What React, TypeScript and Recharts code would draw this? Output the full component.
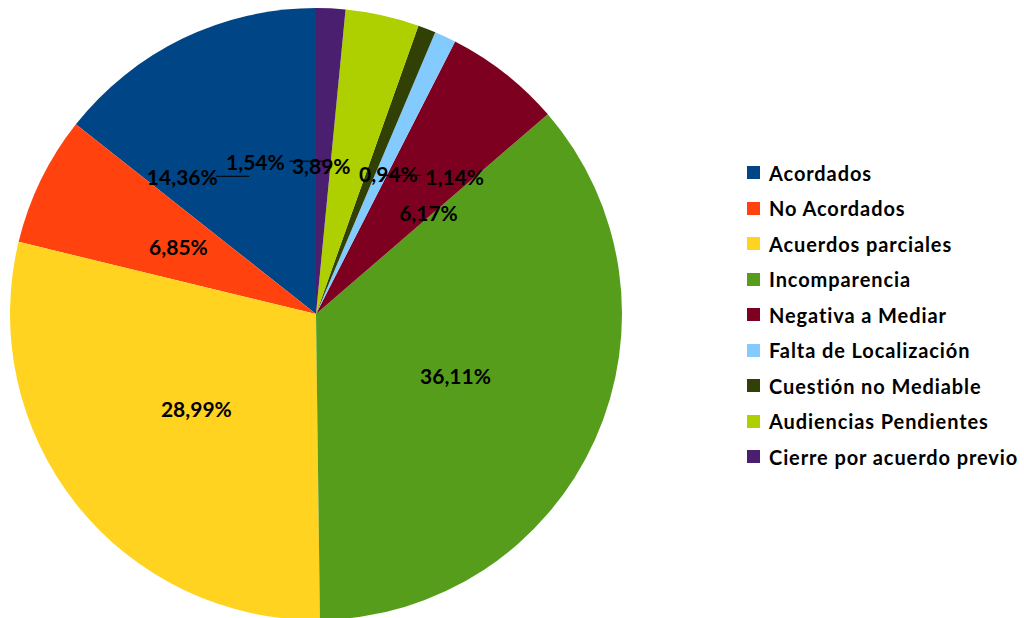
import React from 'react';
import { PieChart, Pie, Cell, Legend } from 'recharts';

const categories = [
  'Acordados',
  'No Acordados',
  'Acuerdos parciales',
  'Incomparencia',
  'Negativa a Mediar',
  'Falta de Localización',
  'Cuestión no Mediable',
  'Audiencias Pendientes',
  'Cierre por acuerdo previo',
];
const values = [14.36, 6.85, 28.99, 36.11, 6.17, 1.14, 0.94, 3.89, 1.54];
const colors = ['#004586', '#ff420e', '#ffd320', '#579d1c', '#7e0021', '#83caff', '#314004', '#aecf00', '#4b1f6f'];

// label displacement from the default half-radius position, and whether a leader line is drawn
const labelShift: [number, number, boolean][] = [
  [-67, 1, true],
  [0, 0, false],
  [0, 0, false],
  [0, 0, false],
  [18, 20, false],
  [74, 2, true],
  [17, 3, false],
  [-28, 2, false],
  [-68, 1, true],
];

const data = categories.map((name, i) => ({ name, value: values[i] }));

const FONT = 'Lato, "Open Sans", sans-serif';
const RAD = Math.PI / 180;

const fmt = (v: number) => v.toFixed(2).replace('.', ',') + '%';

const renderLabel = (props: any) => {
  const { cx, cy, midAngle, outerRadius, index, value } = props;
  const r = outerRadius * 0.5;
  const bx = cx + r * Math.cos(-midAngle * RAD);
  const by = cy + r * Math.sin(-midAngle * RAD);
  const [dx, dy, line] = labelShift[index];
  const lx = bx + dx;
  const ly = by + dy;
  const halfW = 31;
  let lineEl = null;
  if (line) {
    const startX = dx < 0 ? lx + halfW + 3 : lx - halfW - 2;
    lineEl = <line x1={startX} y1={by} x2={bx} y2={by} stroke="#000" strokeWidth={1} />;
  }
  return (
    <g key={`lbl-${index}`}>
      {lineEl}
      <text
        x={lx}
        y={ly + 7.5}
        textAnchor="middle"
        fill="#000"
        fontFamily={FONT}
        fontWeight={700}
        fontSize={21}
      >
        {fmt(value)}
      </text>
    </g>
  );
};

const LegendContent = () => (
  <div style={{ fontFamily: FONT, fontWeight: 700, fontSize: 20, letterSpacing: 0.9, color: '#000' }}>
    {categories.map((c, i) => (
      <div key={c} style={{ height: 35.5, display: 'flex', alignItems: 'center', whiteSpace: 'nowrap' }}>
        <span style={{ display: 'inline-block', width: 13, height: 13, background: colors[i], marginRight: 9 }} />
        <span>{c}</span>
      </div>
    ))}
  </div>
);

export default function App() {
  return (
    <div style={{ position: 'absolute', left: 0, top: 0, width: 1024, height: 618, background: '#fff', overflow: 'hidden' }}>
      <PieChart width={1024} height={618} margin={{ top: 0, right: 0, bottom: 0, left: 0 }}>
        <Pie
          data={data}
          dataKey="value"
          nameKey="name"
          cx={316}
          cy={314}
          outerRadius={306}
          startAngle={90}
          endAngle={450}
          stroke="none"
          labelLine={false}
          label={renderLabel}
          isAnimationActive={false}
        >
          {data.map((d, i) => (
            <Cell key={d.name} fill={colors[i]} />
          ))}
        </Pie>
        <Legend
          layout="vertical"
          content={<LegendContent />}
          wrapperStyle={{ position: 'absolute', left: 747, top: 155, width: 277 }}
        />
      </PieChart>
    </div>
  );
}
